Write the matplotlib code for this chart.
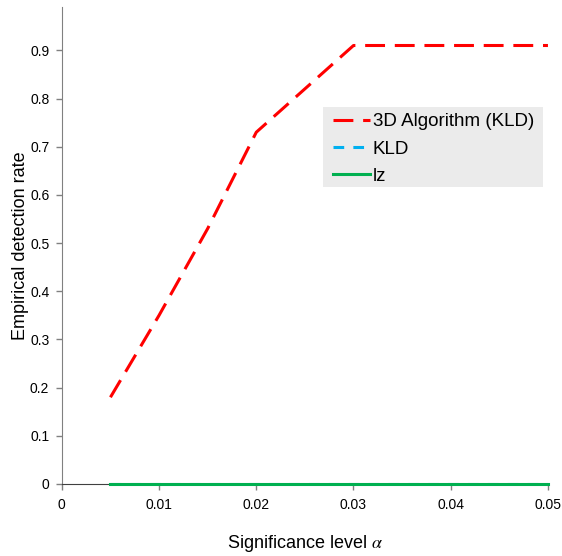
import matplotlib
matplotlib.use("Agg")
import matplotlib.pyplot as plt
from matplotlib.patches import Rectangle

plt.rcParams['font.family'] = ['Liberation Sans', 'DejaVu Sans']
plt.rcParams['mathtext.fontset'] = 'stix'

# Significance levels and empirical detection rates
alpha_3d = [0.005, 0.01, 0.015, 0.02, 0.03, 0.04, 0.05]
rate_3d = [0.18, 0.35, 0.53, 0.73, 0.91, 0.91, 0.91]

alpha_kld = [0.005, 0.01, 0.02, 0.03, 0.04, 0.05]
rate_kld = [0.0, 0.0, 0.0, 0.0, 0.0, 0.0]

alpha_lz = [0.005, 0.01, 0.02, 0.03, 0.04, 0.05]
rate_lz = [0.0, 0.0, 0.0, 0.0, 0.0, 0.0]

x_ticks = [0, 0.01, 0.02, 0.03, 0.04, 0.05]
x_ticklabels = ['0', '0.01', '0.02', '0.03', '0.04', '0.05']
y_ticks = [0, 0.1, 0.2, 0.3, 0.4, 0.5, 0.6, 0.7, 0.8, 0.9]
y_ticklabels = ['0', '0.1', '0.2', '0.3', '0.4', '0.5', '0.6', '0.7', '0.8', '0.9']

fig = plt.figure(figsize=(5.62, 5.56), dpi=100)
ax = fig.add_axes([0.110, 0.1295, 0.865, 0.858])

ax.plot(alpha_3d, rate_3d, color='#ff0000', lw=2.2, dashes=(6.5, 3.2),
        label='3D Algorithm (KLD)', zorder=3)
ax.plot(alpha_kld, rate_kld, color='#00b0f0', lw=2.2, dashes=(3.5, 3.0),
        label='KLD', zorder=3)
ax.plot(alpha_lz, rate_lz, color='#00b050', lw=2.2, label='lz', zorder=4,
        clip_on=False)

ax.set_xlim(0, 0.05)
ax.set_ylim(0, 0.99)
ax.set_xticks(x_ticks)
ax.set_xticklabels(x_ticklabels)
ax.set_yticks(y_ticks)
ax.set_yticklabels(y_ticklabels)

for side in ('top', 'right'):
    ax.spines[side].set_visible(False)
ax.spines['left'].set_color('#808080')
ax.spines['bottom'].set_color('#404040')
ax.tick_params(axis='both', direction='out', length=4, width=1,
               colors='#808080', labelcolor='black', labelsize=10)
ax.tick_params(axis='x', pad=6)
ax.tick_params(axis='y', pad=5)

ax.set_xlabel(r'Significance level $\alpha$', fontsize=13, labelpad=15)
ax.set_ylabel('Empirical detection rate', fontsize=13, labelpad=1)

# Grey panel behind the legend entries
ax.add_patch(Rectangle((0.537, 0.6226), 0.4525, 0.1674,
                       transform=ax.transAxes, facecolor='#ebebeb',
                       edgecolor='none', zorder=5))

leg = ax.legend(loc='upper left', bbox_to_anchor=(0.5575, 0.777),
                borderaxespad=0, borderpad=0, fontsize=13.5, frameon=False,
                handlelength=1.97, handletextpad=0.16, labelspacing=0.54)
leg.set_zorder(6)

fig.savefig('out.png', dpi=100)
